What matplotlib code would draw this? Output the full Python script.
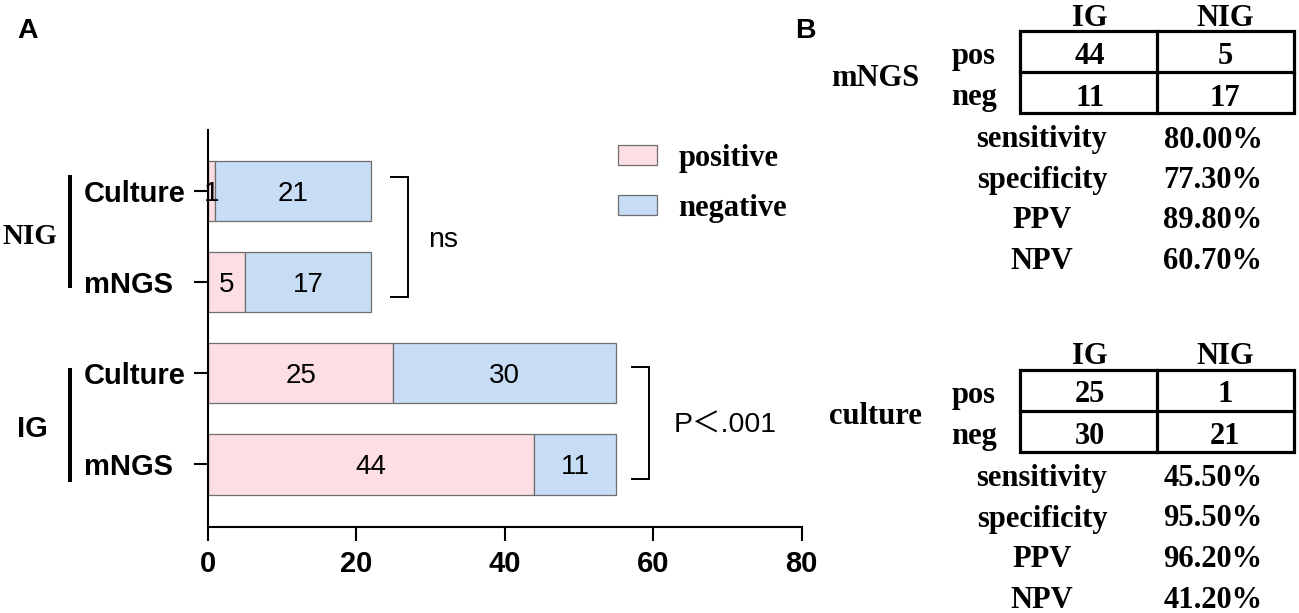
import matplotlib
matplotlib.use('Agg')
import matplotlib.pyplot as plt
from matplotlib.transforms import blended_transform_factory
from matplotlib.lines import Line2D
from matplotlib.patches import Rectangle
from matplotlib.font_manager import FontProperties

# ---------------- data ----------------
bar_groups = ['NIG', 'NIG', 'IG', 'IG']
bar_methods = ['Culture', 'mNGS', 'Culture', 'mNGS']
positive = [1, 5, 25, 44]
negative = [21, 17, 30, 11]
series_names = ['positive', 'negative']
x_ticks = [0, 20, 40, 60, 80]
comparison_labels = ['ns', 'P\uff1c.001']

table_cols = ['IG', 'NIG']
row_names = ['pos', 'neg']
mngs_pos = [44, 5]
mngs_neg = [11, 17]
culture_pos = [25, 1]
culture_neg = [30, 21]
metric_names = ['sensitivity', 'specificity', 'PPV', 'NPV']
mngs_metrics = ['80.00%', '77.30%', '89.80%', '60.70%']
culture_metrics = ['45.50%', '95.50%', '96.20%', '41.20%']

# ---------------- style ----------------
W, H = 1299, 613
PINK = '#FDDEE2'
BLUE = '#C7DCF5'
EDGE = '#6E6E6E'
SANS = 'Liberation Sans'
SERIF = 'Liberation Serif'

fig = plt.figure(figsize=(W / 100, H / 100), dpi=100)

# overlay in pixel coordinates for annotations outside the plot
ov = fig.add_axes([0, 0, 1, 1])
ov.set_xlim(0, W)
ov.set_ylim(H, 0)
ov.axis('off')

ax = fig.add_axes([208 / W, 1 - 526.5 / H, (801.5 - 208) / W, (526.5 - 130) / H])
ypos = list(range(len(positive) - 1, -1, -1))  # top to bottom
b1 = ax.barh(ypos, positive, height=0.66, color=PINK, edgecolor=EDGE, linewidth=0.9,
             label=series_names[0], zorder=2)
b2 = ax.barh(ypos, negative, left=positive, height=0.66, color=BLUE, edgecolor=EDGE,
             linewidth=0.9, label=series_names[1], zorder=2)
ax.set_xlim(0, 80)
ax.set_ylim(-0.68, 3.665)

for y, p, n in zip(ypos, positive, negative):
    ax.text(p / 2, y, str(p), ha='center', va='center_baseline', fontsize=20, family=SANS, zorder=5)
    ax.text(p + n / 2, y, str(n), ha='center', va='center_baseline', fontsize=20, family=SANS, zorder=5)

# axes styling
for s in ['top', 'right']:
    ax.spines[s].set_visible(False)
for s in ['left', 'bottom']:
    ax.spines[s].set_linewidth(1.5)
ax.set_xticks(x_ticks)
ax.set_xticklabels([str(v) for v in x_ticks], fontsize=21, fontweight='bold', family=SANS)
ax.set_yticks(ypos)
ax.set_yticklabels([])
ax.tick_params(axis='x', length=10, width=1.5, pad=7)
ax.tick_params(axis='y', length=10, width=1.5)

# category labels (left aligned, as in reference)
tr = blended_transform_factory(ov.transData, ax.transData)
for y, m in zip(ypos, bar_methods):
    ax.text(84, y, m, transform=tr, ha='left', va='center_baseline', fontsize=21,
            fontweight='bold', family=SANS, clip_on=False)

# group labels with vertical bars
ov.text(30, 233, 'NIG', ha='center', va='center_baseline', fontsize=21, fontweight='bold', family=SERIF)
ov.text(32, 426, 'IG', ha='center', va='center_baseline', fontsize=21, fontweight='bold', family=SANS)
ov.add_line(Line2D([70, 70], [175, 288], color='black', lw=2.9, solid_capstyle='butt'))
ov.add_line(Line2D([70, 70], [368, 482], color='black', lw=2.9, solid_capstyle='butt'))

# significance brackets
totals = [p + n for p, n in zip(positive, negative)]
pairs = [(0, 1), (2, 3)]
pad_top = [0.15, 0.07]
pad_bot = [0.17, 0.16]
gap = [5, 4.5]
text_gap = [2.7, 3.3]
for k, (i, j) in enumerate(pairs):
    xb = max(totals[i], totals[j]) + gap[k]
    yt = ypos[i] + pad_top[k]
    yb = ypos[j] - pad_bot[k]
    ax.plot([xb - 2.4, xb, xb, xb - 2.4], [yt, yt, yb, yb], color='black', lw=1.4,
            solid_joinstyle='miter', clip_on=False)
    ax.text(xb + text_gap[k], (yt + yb) / 2, comparison_labels[k], ha='left', va='center_baseline',
            fontsize=20.5, family=[SANS, 'Noto Sans CJK SC'], clip_on=False)

# legend
leg = ax.legend([b1, b2], series_names, loc='upper left',
                bbox_to_anchor=(618 / W, 1 - 144 / H), bbox_transform=fig.transFigure,
                frameon=False, borderpad=0, borderaxespad=0, handlelength=1.28,
                handleheight=0.62, handletextpad=0.69, labelspacing=0.68,
                prop=FontProperties(family=SERIF, weight='bold', size=22))

# panel letters
ov.text(17, 28, 'A', ha='left', va='center_baseline', fontsize=20.5, fontweight='bold', family=SANS)
ov.text(795, 28, 'B', ha='left', va='center_baseline', fontsize=20.5, fontweight='bold', family=SANS)

# contingency tables
col_x = [1090, 1225]
tfont = dict(fontsize=22, fontweight='bold', family=SERIF)


def draw_table(off, label, pos_vals, neg_vals, metric_vals):
    for cx, c in zip(col_x, table_cols):
        ov.text(cx, 14.5 + off, c, ha='center', va='center_baseline', **tfont)
    ov.add_patch(Rectangle((1020, 31 + off), 274, 82, fill=False, edgecolor='black', lw=2.3))
    ov.add_line(Line2D([1020, 1294], [72 + off, 72 + off], color='black', lw=2.3))
    ov.add_line(Line2D([1157, 1157], [31 + off, 113 + off], color='black', lw=2.3))
    for ry, rn, vals in zip([53 + off, 94.5 + off], row_names, [pos_vals, neg_vals]):
        ov.text(974, ry, rn, ha='center', va='center_baseline', **tfont)
        for cx, v in zip(col_x, vals):
            ov.text(cx, ry, str(v), ha='center', va='center_baseline', **tfont)
    ov.text(875, 75 + off, label, ha='center', va='center_baseline', **tfont)
    for my, mn, mv in zip([136.5, 177, 217.5, 258], metric_names, metric_vals):
        ov.text(1042, my + off, mn, ha='center', va='center_baseline', **tfont)
        ov.text(1213, my + off, mv, ha='center', va='center_baseline', **tfont)


draw_table(0, 'mNGS', mngs_pos, mngs_neg, mngs_metrics)
draw_table(338.5, 'culture', culture_pos, culture_neg, culture_metrics)

fig.savefig('out.png', dpi=100)
